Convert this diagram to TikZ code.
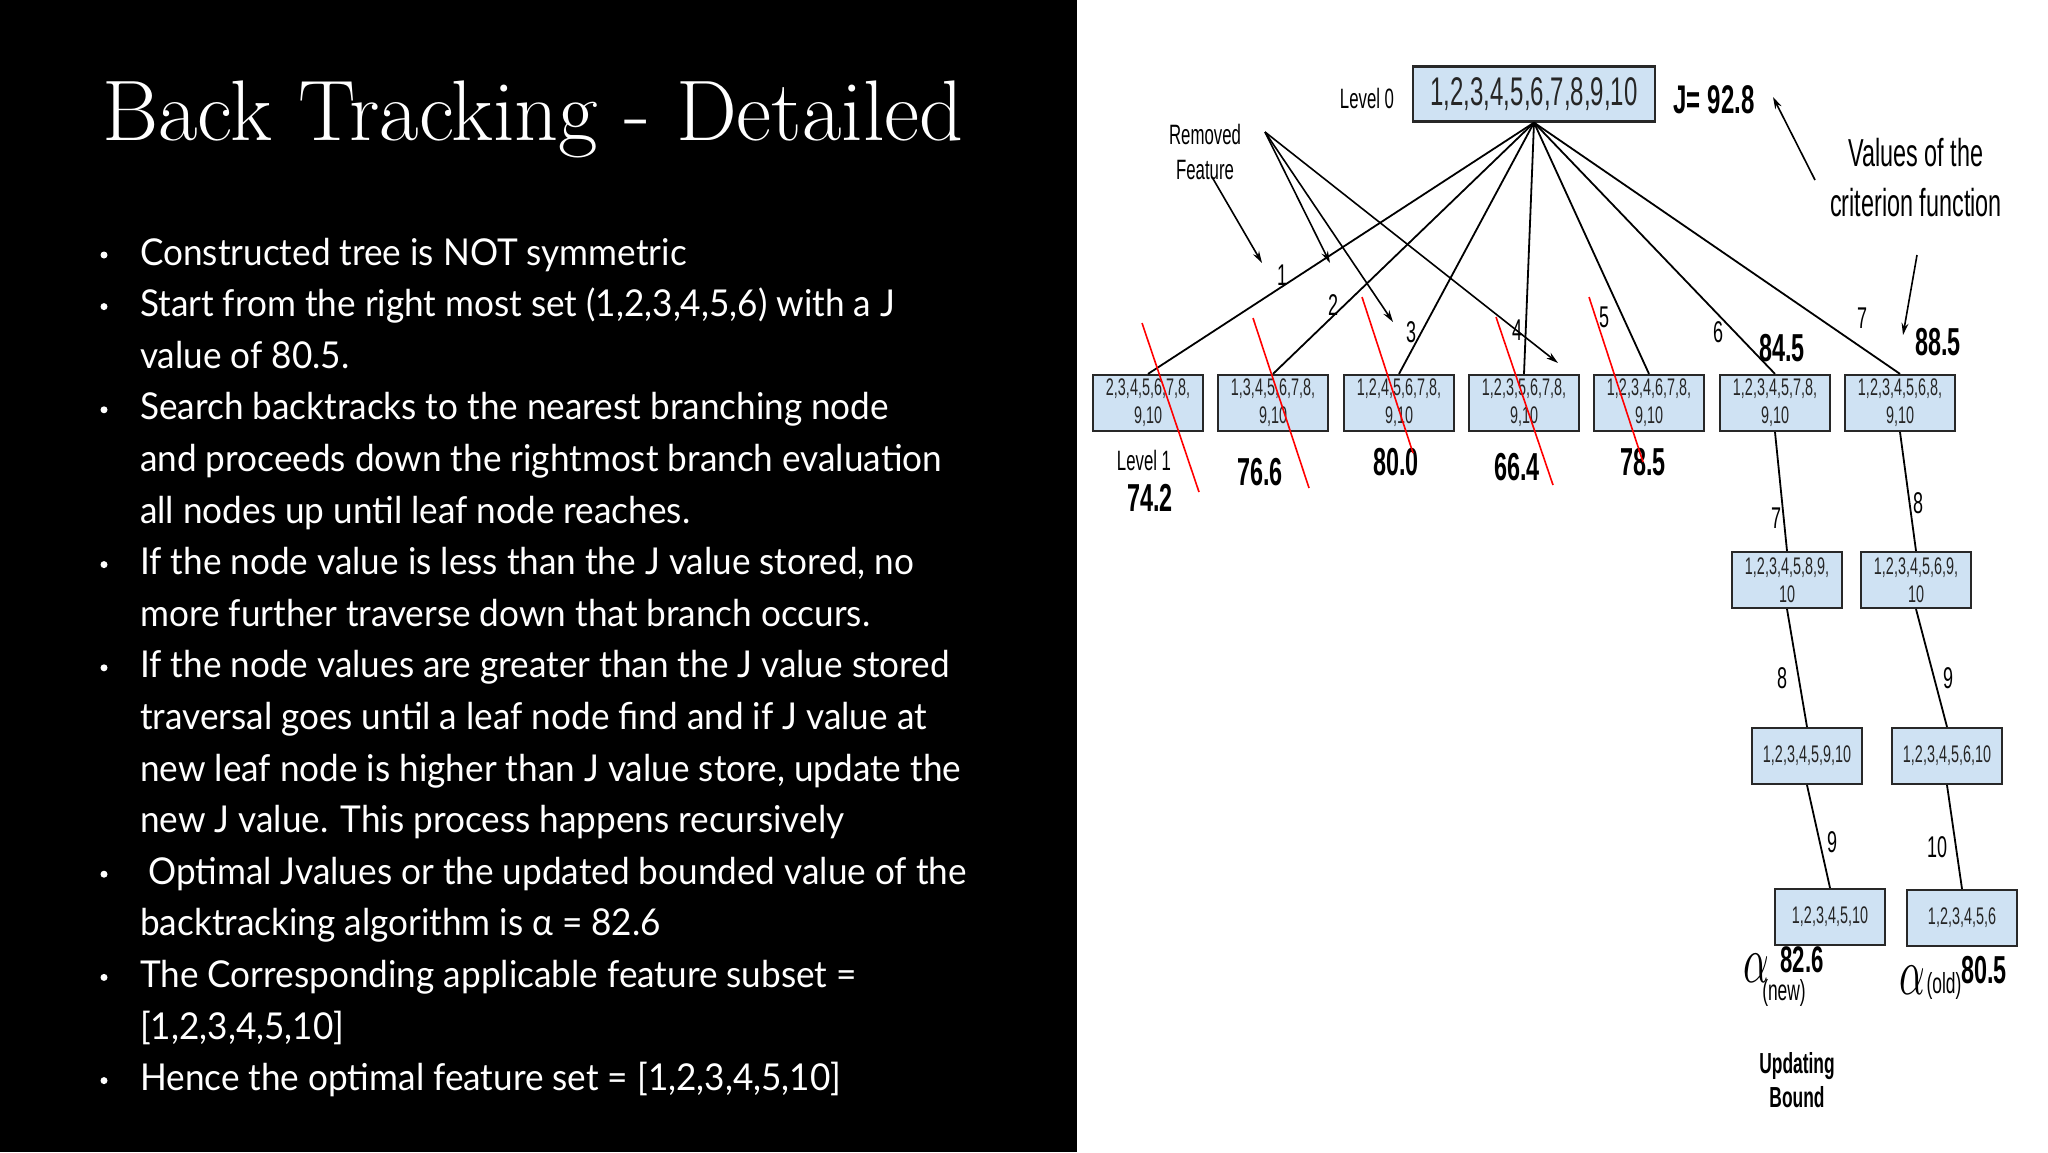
\documentclass[tikz,border=0pt]{standalone}
\usepackage{fontspec}
\usetikzlibrary{arrows.meta}
\setmainfont{Latin Modern Roman}
\newfontfamily\titlefont{Latin Modern Roman}
\newfontfamily\bodyfont[FakeStretch=0.95]{Lato}
\newfontfamily\dgfont[FakeStretch=0.6]{Liberation Sans}
\definecolor{boxfill}{RGB}{207,226,243}
\definecolor{boxline}{RGB}{40,40,40}
\tikzset{
  fbox/.style={draw=boxline, line width=2.2pt, fill=boxfill, minimum width=110pt, minimum height=56pt, inner sep=0pt, align=center, font=\dgfont\fontsize{24}{28}\selectfont, text=black!85},
  edge/.style={line width=1.8pt, black},
  cut/.style={red, line width=1.6pt},
  elab/.style={font=\dgfont\fontsize{30}{30}\selectfont, inner sep=0pt},
  val/.style={font=\dgfont\bfseries\fontsize{39}{39}\selectfont, inner sep=0pt},
  lab/.style={font=\dgfont\fontsize{28}{35}\selectfont, inner sep=0pt, align=center},
  note/.style={line width=1.6pt, -{Stealth[length=12pt,width=7pt]}},
  bline/.style={anchor=base west, font=\bodyfont\fontsize{37}{37}\selectfont, text=white, inner sep=0pt},
  bdot/.style={circle, fill=white, inner sep=0pt, minimum size=7pt},
  alph/.style={inner sep=0pt},
}
\begin{document}
\begin{tikzpicture}[x=1pt,y=-1pt]
\useasboundingbox (0,0) rectangle (2048,1152);
\fill[white] (0,0) rectangle (2048,1152);
\fill[black] (0,0) rectangle (1077,1152);
% title
\node[anchor=base west, inner sep=0pt, text=white, font=\titlefont\fontsize{86}{86}\selectfont] (title) at (102,140) {Back Tracking - Detailed};
% bullets
\foreach \k in {0,1,3,6,8,12,14,16} {
  \node[bdot] (dot\k) at (104,{265+51.6*\k-10}) {};
}
\node[bline] (l0) at (140,265.0) {Constructed tree is NOT symmetric};
\node[bline] (l1) at (140,316.6) {Start from the right most set (1,2,3,4,5,6) with a J};
\node[bline] (l2) at (140,368.2) {value of 80.5.};
\node[bline] (l3) at (140,419.8) {Search backtracks to the nearest branching node};
\node[bline] (l4) at (140,471.4) {and proceeds down the rightmost branch evaluation};
\node[bline] (l5) at (140,523.0) {all nodes up until leaf node reaches.};
\node[bline] (l6) at (140,574.6) {If the node value is less than the J value stored, no};
\node[bline] (l7) at (140,626.2) {more further traverse down that branch occurs.};
\node[bline] (l8) at (140,677.8) {If the node values are greater than the J value stored};
\node[bline] (l9) at (140,729.4) {traversal goes until a leaf node find and if J value at};
\node[bline] (l10) at (140,781.0) {new leaf node is higher than J value store, update the};
\node[bline] (l11) at (140,832.6) {new J value. This process happens recursively};
\node[bline] (l12) at (148,884.2) {Optimal Jvalues or the updated bounded value of the};
\node[bline] (l13) at (140,935.8) {backtracking algorithm is α = 82.6};
\node[bline] (l14) at (140,987.4) {The Corresponding applicable feature subset =};
\node[bline] (l15) at (140,1039.0) {[1,2,3,4,5,10]};
\node[bline] (l16) at (140,1090.6) {Hence the optimal feature set = [1,2,3,4,5,10]};

% ---------- diagram ----------
\node[fbox, minimum width=242pt, minimum height=55pt, font=\dgfont\fontsize{40}{40}\selectfont] (r) at (1534,94) {1,2,3,4,5,6,7,8,9,10};
\node[fbox] (a1) at (1148,403) {2,3,4,5,6,7,8,\\9,10};
\node[fbox] (a2) at (1273,403) {1,3,4,5,6,7,8,\\9,10};
\node[fbox] (a3) at (1399,403) {1,2,4,5,6,7,8,\\9,10};
\node[fbox] (a4) at (1524,403) {1,2,3,5,6,7,8,\\9,10};
\node[fbox] (a5) at (1649,403) {1,2,3,4,6,7,8,\\9,10};
\node[fbox] (a6) at (1775,403) {1,2,3,4,5,7,8,\\9,10};
\node[fbox] (a7) at (1900,403) {1,2,3,4,5,6,8,\\9,10};
\node[fbox] (b1) at (1787,580) {1,2,3,4,5,8,9,\\10};
\node[fbox] (b2) at (1916,580) {1,2,3,4,5,6,9,\\10};
\node[fbox] (c1) at (1807,756) {1,2,3,4,5,9,10};
\node[fbox] (c2) at (1947,756) {1,2,3,4,5,6,10};
\node[fbox] (d1) at (1830,917) {1,2,3,4,5,10};
\node[fbox] (d2) at (1962,918) {1,2,3,4,5,6};

\foreach \n in {a1,a2,a3,a4,a5,a6,a7} { \draw[edge] (r.south) -- (\n.north); }
\draw[edge] (a6.south) -- (b1.north);
\draw[edge] (b1.south) -- (c1.north);
\draw[edge] (c1.south) -- (d1.north);
\draw[edge] (a7.south) -- (b2.north);
\draw[edge] (b2.south) -- (c2.north);
\draw[edge] (c2.south) -- (d2.north);

% edge labels
\node[elab] (e1) at (1282,275) {1};
\node[elab] (e2) at (1333,305) {2};
\node[elab] (e3) at (1411,332) {3};
\node[elab] (e4) at (1517,330) {4};
\node[elab] (e5) at (1604,317) {5};
\node[elab] (e6) at (1718,332) {6};
\node[elab] (e7) at (1862,318) {7};
\node[elab] (f7) at (1776,518) {7};
\node[elab] (f8) at (1918,503) {8};
\node[elab] (g8) at (1782,678) {8};
\node[elab] (g9) at (1948,678) {9};
\node[elab] (h9) at (1832,842) {9};
\node[elab] (h10) at (1937,847) {10};

% labels and values
\node[lab] (lev0) at (1367,98) {Level 0};
\node[lab] (lev1) at (1144,460) {Level 1};
\node[lab] (remf) at (1205,152) {Removed\\Feature};
\node[val, font=\dgfont\bfseries\fontsize{40}{40}\selectfont] (j0) at (1714,100) {J= 92.8};
\node[val] (v1) at (1150,498) {74.2};
\node[val] (v2) at (1260,472) {76.6};
\node[val] (v3) at (1396,462) {80.0};
\node[val] (v4) at (1517,467) {66.4};
\node[val] (v5) at (1643,462) {78.5};
\node[val] (v6) at (1782,348) {84.5};
\node[val] (v7) at (1938,342) {88.5};
\node[lab, font=\dgfont\fontsize{39}{50}\selectfont] (crit) at (1916,178) {Values of the\\criterion function};
\node[lab, font=\dgfont\bfseries\fontsize{29}{34}\selectfont] (upd) at (1797,1080) {Updating\\Bound};
\node[val, font=\dgfont\bfseries\fontsize{37}{37}\selectfont] (vnew) at (1802,960) {82.6};
\node[alph] (anew) at (1756,968) {\scalebox{4}[6.6]{$\alpha$}};
\node[elab, font=\dgfont\fontsize{29}{29}\selectfont] (tnew) at (1784,993) {(new)};
\node[alph] (aold) at (1912,980) {\scalebox{4}[6.6]{$\alpha$}};
\node[elab, font=\dgfont\fontsize{29}{29}\selectfont] (told) at (1944,986) {(old)};
\node[val] (vold) at (1984,970) {80.5};

% annotation arrows
\coordinate (fan) at (1265,132);
\coordinate (t1) at (1330,263);
\coordinate (t2) at (1393,322);
\coordinate (t3) at (1558,363);
\coordinate (fs) at (1212,177);
\coordinate (ft) at (1262,263);
\draw[note] (fan) -- (t1);
\draw[note] (fan) -- (t2);
\draw[note] (fan) -- (t3);
\draw[note] (fs) -- (ft);
\coordinate (c1s) at (1815,180);
\coordinate (c1t) at (1773,97);
\coordinate (c2s) at (1917,255);
\coordinate (c2t) at (1903,335);
\draw[note] (c1s) -- (c1t);
\draw[note] (c2s) -- (c2t);

% red cut lines
\coordinate (r1a) at (1142,323); \coordinate (r1b) at (1199,492);
\coordinate (r2a) at (1253,318); \coordinate (r2b) at (1309,488);
\coordinate (r3a) at (1362,297); \coordinate (r3b) at (1413,453);
\coordinate (r4a) at (1496,317); \coordinate (r4b) at (1553,485);
\coordinate (r5a) at (1589,297); \coordinate (r5b) at (1643,462);
\draw[cut] (r1a) -- (r1b);
\draw[cut] (r2a) -- (r2b);
\draw[cut] (r3a) -- (r3b);
\draw[cut] (r4a) -- (r4b);
\draw[cut] (r5a) -- (r5b);
\end{tikzpicture}
\end{document}
